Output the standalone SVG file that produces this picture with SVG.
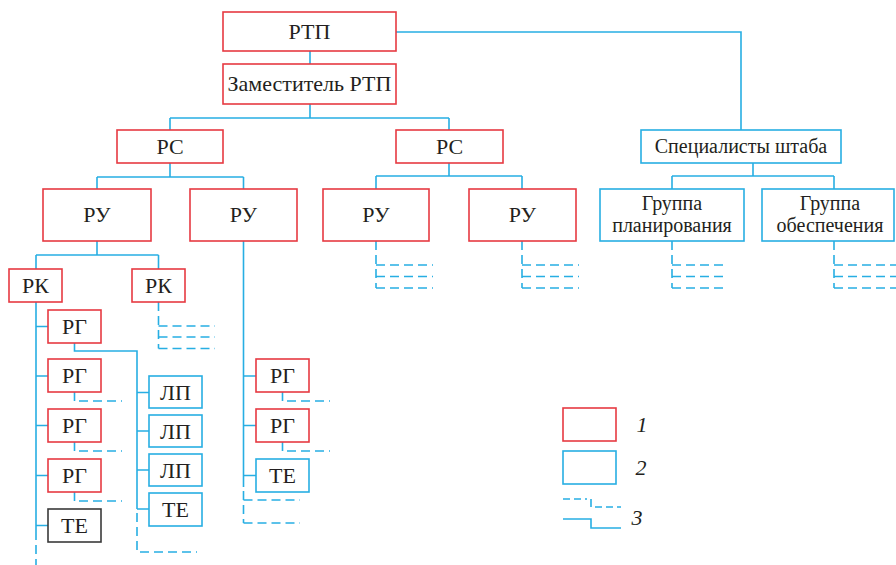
<svg xmlns="http://www.w3.org/2000/svg" width="896" height="565" viewBox="0 0 896 565">
<defs>
<style>
.r{fill:#fff;stroke:#e63a42;stroke-width:1.6}
.b{fill:#fff;stroke:#27aee3;stroke-width:1.6}
.k{fill:#fff;stroke:#3a3a3a;stroke-width:1.6}
text{font-family:'Liberation Serif','DejaVu Serif',serif;fill:#231f20;text-anchor:middle}
.t{font-size:22px}
.t2{font-size:20px}
.n{font-size:22px;font-style:italic}
.l{fill:none;stroke:#27aee3;stroke-width:1.6}
.d{fill:none;stroke:#27aee3;stroke-width:1.6;stroke-dasharray:9 5}
</style>
</defs>
<rect width="896" height="565" fill="#fff"/>
<g id="connectors">
<path class="l" d="M396 32H741V130"/>
<path class="l" d="M310 51V64"/>
<path class="l" d="M310 104V118M170 118H449M170 118V130M449 118V130"/>
<path class="l" d="M170 163V177M97 177H243.5M97 177V189M243.5 177V189"/>
<path class="l" d="M449 163V176M376 176H522M376 176V189M522 176V189"/>
<path class="l" d="M753 163V176M672 176H834M672 176V189M834 176V189"/>
<path class="l" d="M97 241V255M36 255H158.5M36 255V269M158.5 255V269"/>
<path class="l" d="M36 302V540M36 326.5H48M36 376H48M36 425.5H48M36 475.5H48M36 525.5H48"/>
<path class="d" d="M36 545V565"/>
<path class="l" d="M74.5 342V351H137V509M137 392.5H149M137 431H149M137 470H149M137 509H149"/>
<path class="d" d="M137 513V552H197"/>
<path class="l" d="M74.5 392V401M74.5 442V451M74.5 492V501"/>
<path class="d" d="M79 401H122M79 451H122M79 501H122"/>
<path class="d" d="M158.5 302V348.5M158.5 326H215M158.5 337H215M158.5 348.5H215"/>
<path class="l" d="M243.5 241V487M243.5 376H256M243.5 425.5H256M243.5 475.5H256"/>
<path class="d" d="M243.5 491V523M243.5 500H300M243.5 523H300"/>
<path class="l" d="M282.5 392V401M282.5 442V451"/>
<path class="d" d="M287 401H330M287 451H330"/>
<path class="d" d="M376 241V288M376 265H433M376 276.5H433M376 288H433"/>
<path class="d" d="M522 241V288M522 265H579M522 276.5H579M522 288H579"/>
<path class="d" d="M672 241V288M672 265H728M672 276.5H728M672 288H728"/>
<path class="d" d="M834 241V288M834 265H896M834 276.5H896M834 288H896"/>
</g>
<g id="n-rtp"><rect class="r" x="223" y="12" width="173" height="39"/><text class="t" x="309.5" y="39">РТП</text></g>
<g id="n-zam"><rect class="r" x="223" y="64" width="173" height="40"/><text class="t" x="309.5" y="91">Заместитель РТП</text></g>
<g id="n-rs1"><rect class="r" x="117" y="130" width="106" height="33"/><text class="t" x="170" y="154">РС</text></g>
<g id="n-rs2"><rect class="r" x="396" y="130" width="107" height="33"/><text class="t" x="449.5" y="154">РС</text></g>
<g id="n-spec"><rect class="b" x="641" y="130" width="200" height="33"/><text class="t2" x="741" y="153">Специалисты штаба</text></g>
<g id="n-ru1"><rect class="r" x="43" y="189" width="108" height="52"/><text class="t" x="97" y="222">РУ</text></g>
<g id="n-ru2"><rect class="r" x="190" y="189" width="107" height="52"/><text class="t" x="243.5" y="222">РУ</text></g>
<g id="n-ru3"><rect class="r" x="323" y="189" width="106" height="52"/><text class="t" x="376" y="222">РУ</text></g>
<g id="n-ru4"><rect class="r" x="469" y="189" width="107" height="52"/><text class="t" x="522.5" y="222">РУ</text></g>
<g id="n-gp"><rect class="b" x="600" y="189" width="144" height="52"/><text class="t2" x="672" y="210">Группа</text><text class="t2" x="672" y="232">планирования</text></g>
<g id="n-go"><rect class="b" x="762" y="189" width="132" height="52"/><text class="t2" x="830" y="210">Группа</text><text class="t2" x="830" y="232">обеспечения</text></g>
<g id="n-rk1"><rect class="r" x="9" y="269" width="53" height="33"/><text class="t" x="35.5" y="293">РК</text></g>
<g id="n-rk2"><rect class="r" x="132" y="269" width="53" height="33"/><text class="t" x="158.5" y="293">РК</text></g>
<g id="n-rg1"><rect class="r" x="48" y="310" width="53" height="33"/><text class="t" x="74.5" y="334">РГ</text></g>
<g id="n-rg2"><rect class="r" x="48" y="359" width="53" height="33"/><text class="t" x="74.5" y="383">РГ</text></g>
<g id="n-rg3"><rect class="r" x="48" y="409" width="53" height="33"/><text class="t" x="74.5" y="433">РГ</text></g>
<g id="n-rg4"><rect class="r" x="48" y="459" width="53" height="33"/><text class="t" x="74.5" y="483">РГ</text></g>
<g id="n-te1"><rect class="k" x="48" y="509" width="53" height="33"/><text class="t" x="74.5" y="533">ТЕ</text></g>
<g id="n-lp1"><rect class="b" x="149" y="376" width="53" height="32"/><text class="t" x="175.5" y="400">ЛП</text></g>
<g id="n-lp2"><rect class="b" x="149" y="415" width="53" height="32"/><text class="t" x="175.5" y="439">ЛП</text></g>
<g id="n-lp3"><rect class="b" x="149" y="454" width="53" height="32"/><text class="t" x="175.5" y="478">ЛП</text></g>
<g id="n-te2"><rect class="b" x="149" y="493" width="53" height="33"/><text class="t" x="175.5" y="517">ТЕ</text></g>
<g id="n-rg5"><rect class="r" x="256" y="359" width="53" height="33"/><text class="t" x="282.5" y="383">РГ</text></g>
<g id="n-rg6"><rect class="r" x="256" y="409" width="53" height="33"/><text class="t" x="282.5" y="433">РГ</text></g>
<g id="n-te3"><rect class="b" x="256" y="459" width="53" height="33"/><text class="t" x="282.5" y="483">ТЕ</text></g>
<g id="legend">
<rect class="r" x="563" y="408" width="53" height="33"/>
<text class="n" x="642" y="432">1</text>
<rect class="b" x="563" y="451" width="53" height="33"/>
<text class="n" x="641" y="475">2</text>
<path class="d" d="M563 499H587" style="stroke-dasharray:7 4"/>
<path class="l" d="M591 499V507"/>
<path class="d" d="M595 507H621" style="stroke-dasharray:7 4"/>
<path class="l" d="M563 519H591V528H621"/>
<text class="n" x="637" y="525">3</text>
</g>
</svg>
